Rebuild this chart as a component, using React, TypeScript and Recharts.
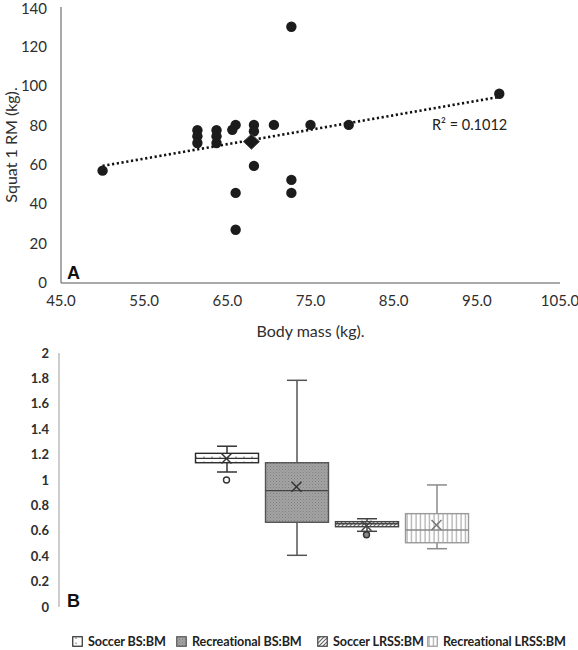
import React from 'react';
import { ScatterChart, Scatter, XAxis, YAxis, ReferenceLine, ComposedChart, Bar } from 'recharts';

const FONT = 'Lato, "Open Sans", sans-serif';

// Panel A: body mass vs squat 1RM
const bodyMass = [50.0, 61.4, 61.4, 61.4, 63.7, 63.7, 63.7, 65.6, 66.0, 66.0, 66.0, 68.2, 68.2, 68.2, 70.6, 72.7, 72.7, 72.7, 75.0, 79.6, 97.7];
const squat1RM = [57, 77.5, 74.5, 71, 77.5, 74.5, 71, 77.7, 80.2, 45.7, 27, 80.2, 77, 59.4, 80.2, 130, 52.3, 45.7, 80.2, 80.2, 96];
const meanPoint = [{ x: 67.9, y: 71.7 }];
const trendX = [50, 97.7];
const trendY = [59.4, 94.4];
const xTicksA = [45, 55, 65, 75, 85, 95, 105];
const yTicksA = [0, 20, 40, 60, 80, 100, 120, 140];

// Panel B: box plots
const groups = ['Soccer BS:BM', 'Recreational BS:BM', 'Soccer LRSS:BM', 'Recreational LRSS:BM'];
const minVals = [1.063, 0.407, 0.596, 0.459];
const q1Vals = [1.136, 0.667, 0.632, 0.506];
const medianVals = [1.17, 0.916, 0.655, 0.606];
const q3Vals = [1.21, 1.136, 0.672, 0.735];
const maxVals = [1.266, 1.785, 0.695, 0.961];
const meanVals = [1.17, 0.947, 0.64, 0.646];
const outlierVals = [1.0, null, 0.569, null];
const yTicksB = [0, 0.2, 0.4, 0.6, 0.8, 1, 1.2, 1.4, 1.6, 1.8, 2];

const scatterData = bodyMass.map((x, i) => ({ x, y: squat1RM[i] }));
const boxData = groups.map((name, i) => ({
  name,
  range: [minVals[i], maxVals[i]],
  q1: q1Vals[i],
  median: medianVals[i],
  q3: q3Vals[i],
  mean: meanVals[i],
  outlier: outlierVals[i],
}));

const BOX_STYLES = [
  { fill: 'url(#pat-soccer-bs)', stroke: '#2b2b2b', whisker: '#333', median: '#333', cross: '#333' },
  { fill: 'url(#pat-rec-bs)', stroke: '#555', whisker: '#555', median: '#444', cross: '#333' },
  { fill: 'url(#pat-soccer-lrss)', stroke: '#444', whisker: '#444', median: '#444', cross: '#444' },
  { fill: 'url(#pat-rec-lrss)', stroke: '#999', whisker: '#8a8a8a', median: '#888', cross: '#777' },
];
// legend item left edges
const LEGEND_X = [72, 176, 317, 427];

const Dot = (p: any) => <circle cx={p.cx} cy={p.cy} r={5.2} fill="#1c1c1c" />;
const Diamond = (p: any) => (
  <polygon
    points={`${p.cx - 8},${p.cy} ${p.cx},${p.cy - 7.5} ${p.cx + 8},${p.cy} ${p.cx},${p.cy + 7.5}`}
    fill="#1a1a1a"
    stroke="#444"
    strokeWidth={1}
  />
);

const BoxShape = (props: any) => {
  const { x, y, width, height, payload, index } = props;
  const st = BOX_STYLES[index] || BOX_STYLES[0];
  const [lo, hi] = payload.range;
  const py = (v: number) => y + ((hi - v) / (hi - lo)) * height;
  const cx = x + width / 2;
  const cap = 10;
  return (
    <g>
      <line x1={cx} x2={cx} y1={py(hi)} y2={py(payload.q3)} stroke={st.whisker} strokeWidth={1.5} />
      <line x1={cx} x2={cx} y1={py(payload.q1)} y2={py(lo)} stroke={st.whisker} strokeWidth={1.5} />
      <line x1={cx - cap} x2={cx + cap} y1={py(hi)} y2={py(hi)} stroke={st.whisker} strokeWidth={1.5} />
      <line x1={cx - cap} x2={cx + cap} y1={py(lo)} y2={py(lo)} stroke={st.whisker} strokeWidth={1.5} />
      <rect
        x={x}
        y={py(payload.q3)}
        width={width}
        height={py(payload.q1) - py(payload.q3)}
        fill={st.fill}
        stroke={st.stroke}
        strokeWidth={1.4}
      />
      <line x1={x} x2={x + width} y1={py(payload.median)} y2={py(payload.median)} stroke={st.median} strokeWidth={1.4} />
    </g>
  );
};

const MeanCross = (p: any) => {
  const st = BOX_STYLES[p.index] || BOX_STYLES[0];
  const s = 5;
  return (
    <g stroke={st.cross} strokeWidth={1.5}>
      <line x1={p.cx - s} y1={p.cy - s} x2={p.cx + s} y2={p.cy + s} />
      <line x1={p.cx - s} y1={p.cy + s} x2={p.cx + s} y2={p.cy - s} />
    </g>
  );
};

const OutlierDot = (p: any) => {
  if (p.payload?.outlier == null) return <g />;
  const filled = p.index === 2;
  return <circle cx={p.cx} cy={p.cy} r={3} fill={filled ? '#888' : '#fff'} stroke="#333" strokeWidth={1.4} />;
};

const Patterns = () => (
  <svg width={0} height={0} style={{ position: 'absolute' }}>
    <defs>
      <pattern id="pat-soccer-bs" width={8} height={5} patternUnits="userSpaceOnUse">
        <rect width={8} height={5} fill="#fff" />
        <line x1={4} x2={4} y1={1.5} y2={3} stroke="#666" strokeWidth={1} />
      </pattern>
      <pattern id="pat-rec-bs" width={3} height={3} patternUnits="userSpaceOnUse">
        <rect width={3} height={3} fill="#a3a3a3" />
        <rect width={1} height={1} fill="#808080" />
        <rect x={1.5} y={1.5} width={1} height={1} fill="#8a8a8a" />
      </pattern>
      <pattern id="pat-soccer-lrss" width={4} height={4} patternUnits="userSpaceOnUse">
        <rect width={4} height={4} fill="#fff" />
        <path d="M-1,1 L1,-1 M0,4 L4,0 M3,5 L5,3" stroke="#666" strokeWidth={1.2} />
      </pattern>
      <pattern id="pat-rec-lrss" width={4.5} height={10} patternUnits="userSpaceOnUse">
        <rect width={4.5} height={10} fill="#fff" />
        <line x1={2} x2={2} y1={0} y2={10} stroke="#9a9a9a" strokeWidth={1} />
      </pattern>
    </defs>
  </svg>
);

const tickA = { fontSize: 15, fill: '#2e2e2e', fontFamily: FONT };
const tickB = { fontSize: 13, fill: '#2e2e2e', fontFamily: FONT, fontWeight: 'bold' };

export default function App() {
  return (
    <div style={{ position: 'absolute', left: 0, top: 0, width: 578, height: 650, background: '#fff', fontFamily: FONT, overflow: 'hidden' }}>
      <Patterns />

      {/* Panel A */}
      <div style={{ position: 'absolute', left: 0, top: 0 }}>
        <ScatterChart width={578} height={340} margin={{ top: 7, right: 18, left: 0, bottom: 0 }}>
          <XAxis
            type="number"
            dataKey="x"
            domain={[45, 105]}
            ticks={xTicksA}
            tickFormatter={(v: number) => v.toFixed(1)}
            tick={tickA}
            tickLine={false}
            tickMargin={6}
            height={57}
            stroke="#8c8c8c"
            strokeWidth={1.5}
            label={{ value: 'Body mass (kg).', position: 'insideBottom', offset: 3, fill: '#2e2e2e', fontSize: 16, fontFamily: FONT }}
          />
          <YAxis
            type="number"
            dataKey="y"
            domain={[0, 140]}
            ticks={yTicksA}
            tick={tickA}
            tickLine={false}
            tickMargin={8}
            width={61}
            stroke="#8c8c8c"
            strokeWidth={1.5}
            label={{ value: 'Squat 1 RM (kg).', angle: -90, position: 'insideLeft', offset: 11, fill: '#2e2e2e', fontSize: 16, fontFamily: FONT, style: { textAnchor: 'middle' } }}
          />
          <ReferenceLine
            segment={[{ x: trendX[0], y: trendY[0] }, { x: trendX[1], y: trendY[1] }]}
            stroke="#111"
            strokeWidth={2.6}
            strokeDasharray="2.2 2.6"
          />
          <Scatter data={scatterData} shape={Dot} isAnimationActive={false} />
          <Scatter data={meanPoint} shape={Diamond} isAnimationActive={false} />
        </ScatterChart>
      </div>
      <div style={{ position: 'absolute', left: 67, top: 263, fontSize: 18, fontWeight: 'bold', fontFamily: '"Liberation Sans", Arial, sans-serif', color: '#111' }}>A</div>
      <div style={{ position: 'absolute', left: 432, top: 116, fontSize: 14.5, color: '#222' }}>R² = 0.1012</div>

      {/* Panel B */}
      <div style={{ position: 'absolute', left: 0, top: 340 }}>
        <ComposedChart width={578} height={300} data={boxData} margin={{ top: 13, right: 18, left: 0, bottom: 33 }}>
          <XAxis dataKey="name" hide padding={{ left: 132.5, right: 88.5 }} />
          <YAxis
            type="number"
            domain={[0, 2]}
            ticks={yTicksB}
            tick={tickB}
            tickLine={false}
            tickMargin={4}
            width={59}
            stroke="#bdbdbd"
            strokeWidth={1.5}
          />
          <Bar dataKey="range" barSize={63} shape={BoxShape} isAnimationActive={false} />
          <Scatter dataKey="mean" shape={MeanCross} isAnimationActive={false} />
          <Scatter dataKey="outlier" shape={OutlierDot} isAnimationActive={false} />
        </ComposedChart>
      </div>
      <div style={{ position: 'absolute', left: 67, top: 591, fontSize: 18, fontWeight: 'bold', fontFamily: '"Liberation Sans", Arial, sans-serif', color: '#111' }}>B</div>

      {/* Legend */}
      {groups.map((g, i) => (
        <div
          key={g}
          style={{
            position: 'absolute',
            left: LEGEND_X[i],
            top: 634,
            display: 'flex',
            alignItems: 'center',
            fontSize: 12.6,
            fontWeight: 'bold',
            letterSpacing: -0.1,
            color: '#222',
            whiteSpace: 'nowrap',
          }}
        >
          <svg width={11} height={11} style={{ marginRight: 5 }}>
            <rect x={0.75} y={0.75} width={9.5} height={9.5} fill={BOX_STYLES[i].fill} stroke={BOX_STYLES[i].stroke} strokeWidth={1.2} />
          </svg>
          <span>{g}</span>
        </div>
      ))}
    </div>
  );
}
